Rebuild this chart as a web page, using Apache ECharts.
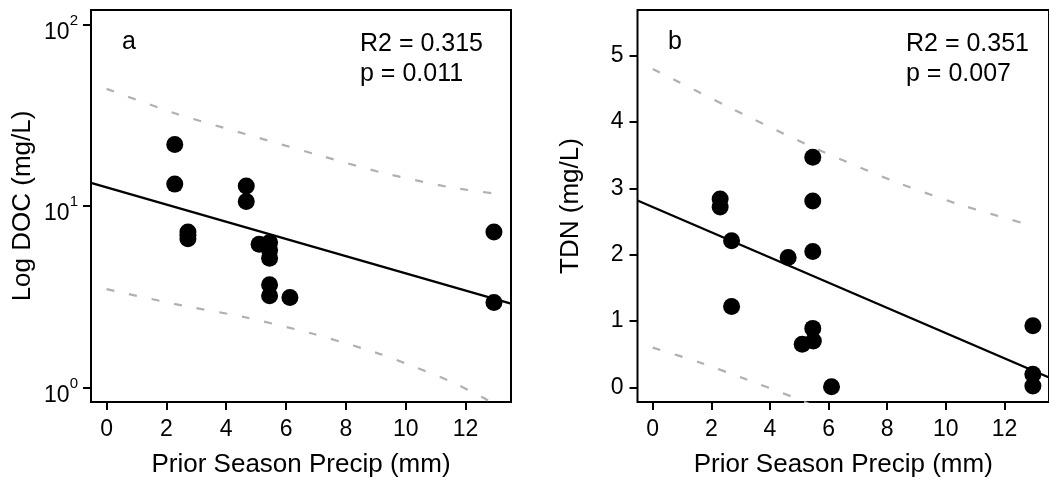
<!DOCTYPE html>
<html><head><meta charset="utf-8">
<script src="https://cdn.jsdelivr.net/npm/echarts@6/dist/echarts.min.js"></script>
<style>html,body{margin:0;padding:0;background:#fff}#c{width:1049px;height:487px}</style>
</head><body><div id="c"></div>
<script>
// ---- Panel a: DOC (log scale) vs prior season precip ----
const precipA = [2.28, 2.28, 2.72, 2.72, 2.72, 4.67, 4.67, 5.10, 5.45, 5.45, 5.45, 5.45, 5.45, 6.13, 12.95, 12.95];
const docA    = [21.8, 13.2, 7.2, 6.9, 6.6, 12.9, 10.6, 6.15, 6.3, 5.7, 5.15, 3.68, 3.2, 3.13, 7.2, 2.94];
const fitA = [1.103, -0.0474];            // log10(DOC) = a + b*x
const bandAUpperX = [0, 2.36, 4.65, 6.93, 9.19, 11.45, 13.0];
const bandAUpper  = [44.2, 32.1, 24.9, 19.4, 15.3, 12.7, 11.7];
const bandALowerX = [0, 2.3, 4.67, 6.93, 9.19, 11.45, 12.58, 13.0];
const bandALower  = [3.48, 2.88, 2.43, 1.97, 1.52, 1.09, 0.88, 0.80];
const statsA = ['R2 = 0.315', 'p = 0.011'];

// ---- Panel b: TDN vs prior season precip ----
const precipB = [2.30, 2.30, 2.69, 2.69, 4.62, 5.46, 5.46, 5.46, 5.46, 5.48, 5.10, 6.10, 12.97, 12.97, 12.97];
const tdnB    = [2.84, 2.72, 2.21, 1.22, 1.96, 3.47, 2.81, 2.05, 0.89, 0.70, 0.65, 0.01, 0.93, 0.20, 0.02];
const fitB = [2.72, -0.19];               // TDN = a + b*x
const bandBUpperX = [0, 2.81, 5.46, 8.15, 10.37, 13.0];
const bandBUpper  = [4.80, 4.18, 3.62, 3.12, 2.77, 2.43];
const bandBLowerX = [0, 1.58, 3.14, 4.81, 6.0];
const bandBLower  = [0.60, 0.38, 0.13, -0.15, -0.38];
const statsB = ['R2 = 0.351', 'p = 0.007'];

const xTicks = [0, 2, 4, 6, 8, 10, 12];
const yTicksA = [1, 10, 100];
const yTicksB = [0, 1, 2, 3, 4, 5];
const xRange = [-0.52, 13.52];
const yRangeA = [Math.pow(10, -0.08), Math.pow(10, 2.08)];
const yRangeB = [-0.22, 5.69];
const xTitle = 'Prior Season Precip (mm)';
const yTitleA = 'Log DOC (mg/L)';
const yTitleB = 'TDN (mg/L)';
const panelLabels = ['a', 'b'];

const FONT = "'Liberation Sans', Arial, sans-serif";
const zip = (xs, ys) => xs.map((x, i) => [x, ys[i]]);
const titleStyle = { color: '#000', fontSize: 26, fontFamily: FONT };
const tickStyle = { show: true, inside: false, length: 8, lineStyle: { color: '#000', width: 2 } };
const bandStyle = { color: '#b0b0b0', width: 2.2, type: [8, 15] };

function xAxisCfg(idx) {
  return {
    type: 'value', gridIndex: idx, min: xRange[0], max: xRange[1],
    axisLine: { show: false, onZero: false },
    splitLine: { show: false },
    axisTick: Object.assign({ customValues: xTicks }, tickStyle),
    axisLabel: { customValues: xTicks, color: '#000', fontSize: 23, fontFamily: FONT, margin: 16 },
    name: xTitle, nameLocation: 'middle', nameGap: 50, nameMoveOverlap: false,
    nameTextStyle: titleStyle
  };
}

const gridA = { left: 91, top: 10, width: 420, height: 392 };
const gridB = { left: 637.5, top: 10, width: 420.5, height: 392 };
const gridBase = { show: true, borderColor: '#000', borderWidth: 2, backgroundColor: 'transparent' };

function bandSeries(ax, xs, ys) {
  return { type: 'line', xAxisIndex: ax, yAxisIndex: ax, data: zip(xs, ys), smooth: 0.2,
    symbol: 'none', clip: true, lineStyle: bandStyle, z: 2 };
}

const option = {
  backgroundColor: '#fff',
  animation: false,
  grid: [Object.assign({}, gridBase, gridA), Object.assign({}, gridBase, gridB)],
  xAxis: [xAxisCfg(0), xAxisCfg(1)],
  yAxis: [
    {
      type: 'log', logBase: 10, gridIndex: 0, min: yRangeA[0], max: yRangeA[1],
      axisLine: { show: false, onZero: false }, splitLine: { show: false }, minorTick: { show: false },
      axisTick: Object.assign({ customValues: yTicksA }, tickStyle),
      axisLabel: {
        customValues: yTicksA, color: '#000', fontFamily: FONT, margin: 13,
        padding: [8, 0, 0, 0],
        formatter: v => '{b|10}{s|' + Math.round(Math.log10(v)) + '}',
        rich: {
          b: { fontSize: 23, fontFamily: FONT, color: '#000', verticalAlign: 'bottom', lineHeight: 31 },
          s: { fontSize: 15, fontFamily: FONT, color: '#000', verticalAlign: 'top', lineHeight: 15 }
        }
      },
      name: yTitleA, nameLocation: 'middle', nameGap: 55, nameRotate: 90, nameMoveOverlap: false,
      nameTextStyle: titleStyle
    },
    {
      type: 'value', gridIndex: 1, min: yRangeB[0], max: yRangeB[1],
      axisLine: { show: false, onZero: false }, splitLine: { show: false },
      axisTick: Object.assign({ customValues: yTicksB }, tickStyle),
      axisLabel: { customValues: yTicksB, color: '#000', fontSize: 23, fontFamily: FONT, margin: 14 },
      name: yTitleB, nameLocation: 'middle', nameGap: 54, nameRotate: 90, nameMoveOverlap: false,
      nameTextStyle: titleStyle
    }
  ],
  series: [
    bandSeries(0, bandAUpperX, bandAUpper),
    bandSeries(0, bandALowerX, bandALower),
    { type: 'line', xAxisIndex: 0, yAxisIndex: 0, symbol: 'none', clip: true,
      data: xRange.map(x => [x, Math.pow(10, fitA[0] + fitA[1] * x)]),
      lineStyle: { color: '#000', width: 2.3 }, z: 3 },
    { type: 'scatter', xAxisIndex: 0, yAxisIndex: 0, data: zip(precipA, docA), symbolSize: 17,
      itemStyle: { color: '#000', opacity: 1 }, z: 4 },

    bandSeries(1, bandBUpperX, bandBUpper),
    bandSeries(1, bandBLowerX, bandBLower),
    { type: 'line', xAxisIndex: 1, yAxisIndex: 1, symbol: 'none', clip: true,
      data: xRange.map(x => [x, fitB[0] + fitB[1] * x]),
      lineStyle: { color: '#000', width: 2.3 }, z: 3 },
    { type: 'scatter', xAxisIndex: 1, yAxisIndex: 1, data: zip(precipB, tdnB), symbolSize: 17,
      itemStyle: { color: '#000', opacity: 1 }, z: 4 }
  ],
  graphic: [
    { type: 'text', left: 122, top: 30, style: { text: panelLabels[0], fill: '#000', font: '25px ' + FONT } },
    { type: 'text', left: 360, top: 29, style: { text: statsA.join('\n'), fill: '#000', font: '25px ' + FONT, lineHeight: 30 } },
    { type: 'text', left: 668, top: 30, style: { text: panelLabels[1], fill: '#000', font: '25px ' + FONT } },
    { type: 'text', left: 906, top: 29, style: { text: statsB.join('\n'), fill: '#000', font: '25px ' + FONT, lineHeight: 30 } }
  ]
};
const chart = echarts.init(document.getElementById('c'), null, { renderer: 'canvas' });
chart.setOption(option);
</script></body></html>
